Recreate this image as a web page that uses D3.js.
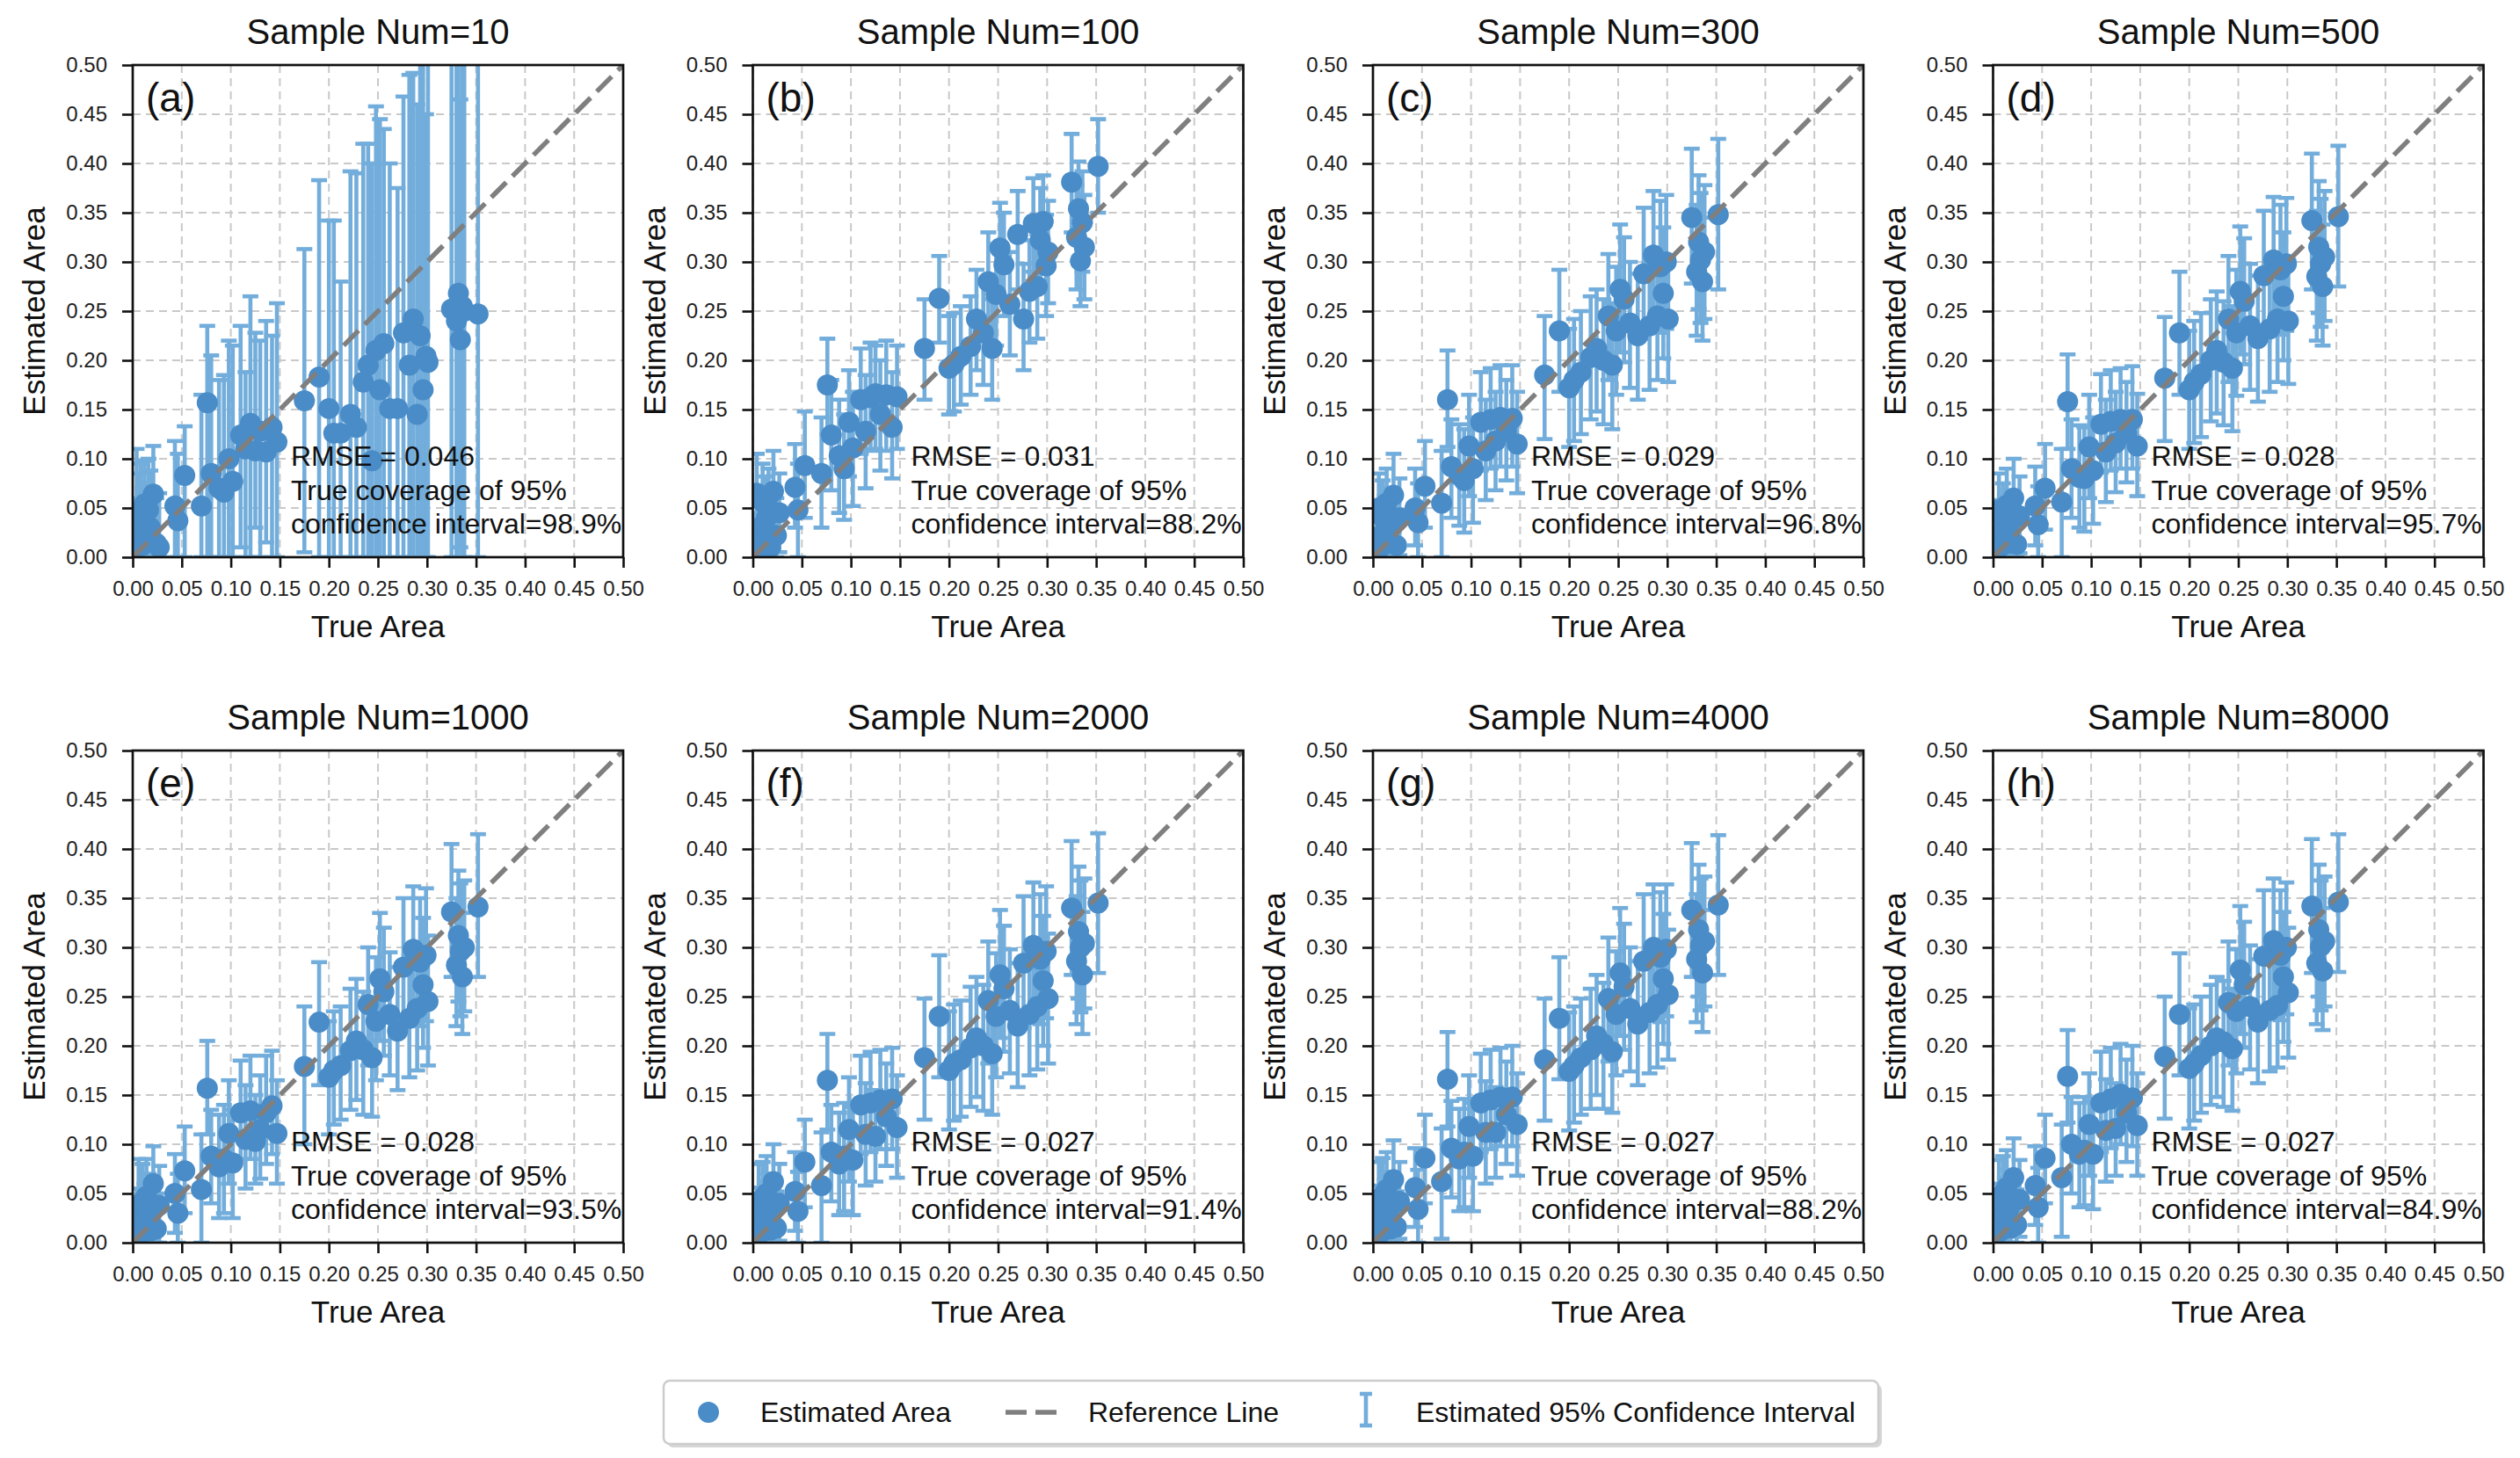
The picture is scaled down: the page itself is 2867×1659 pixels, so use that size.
<!DOCTYPE html>
<html>
<head>
<meta charset="utf-8">
<script src="https://cdn.jsdelivr.net/npm/d3@7"></script>
<style>
  html, body { margin: 0; padding: 0; background: #fff; }
  svg text { font-family: "Liberation Sans", Arial, sans-serif; fill: #111; }
</style>
</head>
<body>
<div id="chart"></div>
<script>
// ground-truth areas (shared by all panels)
const trueArea = [
  0.002, 0.004, 0.006, 0.008, 0.010, 0.012, 0.014, 0.016, 0.018, 0.021,
  0.024, 0.027, 0.043, 0.046, 0.053, 0.070, 0.076, 0.080, 0.088, 0.093,
  0.098, 0.102, 0.110, 0.115, 0.120, 0.125, 0.130, 0.136, 0.142, 0.147,
  0.175, 0.190, 0.200, 0.205, 0.212, 0.222, 0.228, 0.235, 0.240, 0.244,
  0.248, 0.252, 0.256, 0.262, 0.270, 0.276, 0.282, 0.286, 0.290, 0.293,
  0.296, 0.299, 0.301, 0.325, 0.330, 0.332, 0.334, 0.336, 0.338, 0.352
];

const sampleNums = [10, 100, 300, 500, 1000, 2000, 4000, 8000];
const panelLetters = ['a', 'b', 'c', 'd', 'e', 'f', 'g', 'h'];
const rmseValues = ['0.046', '0.031', '0.029', '0.028', '0.028', '0.027', '0.027', '0.027'];
const coverageValues = ['98.9', '88.2', '96.8', '95.7', '93.5', '91.4', '88.2', '84.9'];
const axisTicks = [0, 0.05, 0.10, 0.15, 0.20, 0.25, 0.30, 0.35, 0.40, 0.45, 0.50];

// [estimated, ci lower, ci upper] per point, same order as trueArea
const est10 = [
  [0.008,0,0.060],[0.045,0,0.110],[0.028,0,0.085],[0.039,0,0.095],[0.012,0,0.070],[0.054,0,0.098],
  [0.020,0,0.075],[0.048,0,0.100],[0.030,0,0.088],[0.064,0,0.113],[0.014,0,0.060],[0.010,0,0.065],
  [0.052,0,0.118],[0.037,0,0.105],[0.083,0,0.133],[0.052,0,0.165],[0.157,0,0.235],[0.085,0,0.205],
  [0.070,0,0.180],[0.066,0,0.185],[0.100,0,0.220],[0.077,0,0.215],[0.124,0.010,0.235],[0.110,0,0.188],
  [0.136,0,0.265],[0.108,0.030,0.228],[0.128,0,0.220],[0.107,0.015,0.240],[0.132,0,0.225],[0.117,0,0.258],
  [0.159,0.005,0.313],[0.183,0,0.383],[0.151,0,0.342],[0.126,0,0.342],[0.126,0,0.280],[0.145,0,0.392],
  [0.132,0,0.390],[0.178,0,0.420],[0.195,0,0.420],[0.098,0,0.400],[0.210,0,0.458],[0.170,0,0.445],
  [0.217,0,0.435],[0.151,0,0.400],[0.151,0,0.375],[0.228,0,0.468],[0.195,0,0.490],[0.242,0,0.492],
  [0.145,0,0.460],[0.225,0,0.550],[0.170,0,0.520],[0.204,0,0.450],[0.198,0,0.560],[0.252,0,0.600],
  [0.240,0,0.620],[0.268,0,0.560],[0.221,0.010,0.465],[0.255,0,0.580],[0.250,0,0.600],[0.247,0,0.650]
];
const est100 = [
  [0.012,0,0.045],[0.065,0.020,0.105],[0.030,0,0.070],[0.008,0,0.040],[0.056,0.015,0.095],[0.020,0,0.060],
  [0.040,0,0.082],[0.050,0.008,0.090],[0.010,0,0.045],[0.067,0.025,0.108],[0.022,0,0.060],[0.045,0.005,0.085],
  [0.071,0.030,0.115],[0.048,0,0.095],[0.093,0.040,0.148],[0.085,0.030,0.142],[0.175,0.125,0.222],[0.124,0.068,0.180],
  [0.103,0.045,0.160],[0.090,0.038,0.145],[0.137,0.082,0.190],[0.111,0.052,0.168],[0.160,0.105,0.212],[0.128,0.070,0.185],
  [0.162,0.108,0.218],[0.166,0.110,0.215],[0.145,0.088,0.200],[0.165,0.108,0.220],[0.132,0.080,0.188],[0.163,0.110,0.215],
  [0.212,0.160,0.262],[0.263,0.218,0.306],[0.192,0.145,0.245],[0.196,0.148,0.248],[0.204,0.155,0.255],[0.214,0.165,0.265],
  [0.242,0.190,0.292],[0.228,0.175,0.282],[0.280,0.228,0.330],[0.212,0.160,0.262],[0.267,0.215,0.318],[0.314,0.262,0.360],
  [0.297,0.245,0.350],[0.257,0.205,0.310],[0.328,0.272,0.372],[0.242,0.190,0.298],[0.270,0.218,0.322],[0.339,0.290,0.385],
  [0.275,0.222,0.328],[0.322,0.270,0.375],[0.341,0.292,0.388],[0.296,0.245,0.348],[0.310,0.258,0.362],[0.381,0.330,0.430],
  [0.325,0.272,0.378],[0.354,0.302,0.402],[0.301,0.255,0.350],[0.340,0.290,0.392],[0.315,0.262,0.368],[0.397,0.350,0.445]
];
const est300 = [
  [0.004,0,0.030],[0.020,0,0.055],[0.050,0.015,0.085],[0.010,0,0.042],[0.040,0.005,0.078],[0.025,0,0.062],
  [0.055,0.018,0.090],[0.032,0,0.070],[0.015,0,0.050],[0.063,0.025,0.105],[0.012,0,0.048],[0.040,0.002,0.080],
  [0.050,0.012,0.090],[0.035,0,0.075],[0.072,0.030,0.118],[0.055,0,0.108],[0.160,0.112,0.210],[0.092,0.040,0.140],
  [0.083,0.032,0.135],[0.078,0.025,0.130],[0.113,0.062,0.165],[0.090,0.035,0.142],[0.137,0.088,0.188],[0.108,0.058,0.160],
  [0.140,0.090,0.192],[0.118,0.068,0.168],[0.142,0.092,0.195],[0.128,0.078,0.180],[0.141,0.092,0.195],[0.115,0.065,0.168],
  [0.185,0.120,0.245],[0.230,0.168,0.292],[0.172,0.112,0.232],[0.180,0.118,0.242],[0.188,0.125,0.250],[0.203,0.140,0.265],
  [0.212,0.148,0.272],[0.200,0.135,0.262],[0.245,0.180,0.308],[0.195,0.130,0.258],[0.230,0.165,0.295],[0.272,0.208,0.338],
  [0.262,0.198,0.325],[0.238,0.172,0.300],[0.225,0.160,0.288],[0.288,0.222,0.355],[0.235,0.170,0.298],[0.307,0.240,0.372],
  [0.245,0.180,0.310],[0.295,0.228,0.362],[0.268,0.202,0.335],[0.300,0.232,0.368],[0.242,0.178,0.305],[0.345,0.278,0.415],
  [0.290,0.225,0.358],[0.320,0.252,0.388],[0.302,0.238,0.370],[0.280,0.220,0.345],[0.310,0.242,0.378],[0.348,0.272,0.425]
];
const est500 = [
  [0.005,0,0.032],[0.022,0,0.058],[0.048,0.012,0.085],[0.011,0,0.044],[0.038,0.004,0.075],[0.026,0,0.063],
  [0.053,0.016,0.090],[0.030,0,0.068],[0.014,0,0.050],[0.060,0.022,0.100],[0.013,0,0.048],[0.042,0.004,0.082],
  [0.052,0.012,0.092],[0.033,0,0.072],[0.070,0.028,0.115],[0.056,0,0.110],[0.158,0.110,0.206],[0.090,0.040,0.140],
  [0.081,0.030,0.134],[0.080,0.026,0.132],[0.112,0.060,0.165],[0.088,0.034,0.142],[0.135,0.086,0.186],[0.107,0.056,0.160],
  [0.138,0.088,0.190],[0.116,0.066,0.168],[0.140,0.090,0.192],[0.126,0.076,0.178],[0.140,0.090,0.194],[0.113,0.062,0.166],
  [0.182,0.118,0.244],[0.228,0.165,0.290],[0.170,0.110,0.230],[0.178,0.116,0.240],[0.186,0.122,0.248],[0.200,0.138,0.262],
  [0.210,0.146,0.270],[0.198,0.134,0.260],[0.242,0.178,0.306],[0.192,0.128,0.255],[0.228,0.164,0.292],[0.270,0.206,0.336],
  [0.260,0.196,0.324],[0.235,0.170,0.298],[0.222,0.158,0.286],[0.286,0.220,0.352],[0.232,0.168,0.296],[0.302,0.236,0.366],
  [0.242,0.178,0.306],[0.292,0.226,0.358],[0.265,0.200,0.330],[0.298,0.230,0.365],[0.240,0.176,0.302],[0.342,0.272,0.410],
  [0.285,0.220,0.352],[0.315,0.248,0.382],[0.298,0.234,0.364],[0.275,0.215,0.338],[0.305,0.240,0.372],[0.346,0.275,0.418]
];
const est1000 = [
  [0.005,0,0.030],[0.018,0,0.055],[0.035,0,0.085],[0.009,0,0.040],[0.042,0.005,0.080],[0.022,0,0.060],
  [0.047,0.010,0.085],[0.028,0,0.070],[0.012,0,0.045],[0.060,0.020,0.098],[0.014,0,0.050],[0.038,0,0.078],
  [0.050,0.010,0.090],[0.030,0,0.070],[0.073,0.030,0.118],[0.054,0,0.110],[0.157,0.110,0.205],[0.088,0.040,0.135],
  [0.077,0.025,0.130],[0.085,0.030,0.140],[0.111,0.060,0.165],[0.081,0.025,0.135],[0.132,0.085,0.185],[0.105,0.055,0.160],
  [0.134,0.085,0.190],[0.103,0.060,0.150],[0.115,0.065,0.170],[0.132,0.080,0.190],[0.139,0.090,0.195],[0.111,0.060,0.165],
  [0.179,0.100,0.240],[0.224,0.160,0.285],[0.168,0.110,0.225],[0.175,0.120,0.235],[0.180,0.125,0.240],[0.195,0.135,0.258],
  [0.205,0.145,0.268],[0.196,0.130,0.255],[0.242,0.180,0.300],[0.188,0.128,0.245],[0.225,0.165,0.290],[0.268,0.205,0.335],
  [0.255,0.190,0.320],[0.232,0.170,0.295],[0.215,0.155,0.280],[0.280,0.215,0.350],[0.228,0.168,0.292],[0.298,0.230,0.362],
  [0.238,0.175,0.305],[0.285,0.220,0.350],[0.262,0.198,0.330],[0.292,0.225,0.360],[0.245,0.180,0.312],[0.336,0.270,0.405],
  [0.282,0.220,0.350],[0.312,0.245,0.378],[0.296,0.230,0.365],[0.270,0.212,0.335],[0.300,0.235,0.368],[0.341,0.270,0.415]
];
const est2000 = [
  [0.006,0,0.030],[0.020,0,0.056],[0.036,0,0.080],[0.010,0,0.042],[0.045,0.008,0.082],[0.024,0,0.062],
  [0.050,0.012,0.088],[0.030,0,0.070],[0.013,0,0.046],[0.062,0.022,0.100],[0.015,0,0.052],[0.040,0.002,0.080],
  [0.052,0.012,0.092],[0.032,0,0.072],[0.082,0.036,0.125],[0.058,0,0.112],[0.165,0.115,0.212],[0.092,0.042,0.140],
  [0.080,0.028,0.132],[0.088,0.032,0.142],[0.115,0.062,0.168],[0.084,0.028,0.138],[0.140,0.090,0.190],[0.110,0.058,0.162],
  [0.142,0.092,0.194],[0.108,0.062,0.155],[0.145,0.095,0.196],[0.128,0.078,0.182],[0.146,0.095,0.198],[0.117,0.066,0.170],
  [0.188,0.125,0.248],[0.230,0.168,0.292],[0.175,0.115,0.235],[0.182,0.124,0.242],[0.186,0.128,0.246],[0.198,0.138,0.260],
  [0.208,0.148,0.270],[0.200,0.134,0.262],[0.246,0.182,0.306],[0.192,0.130,0.252],[0.230,0.168,0.294],[0.272,0.208,0.338],
  [0.258,0.194,0.322],[0.236,0.172,0.298],[0.220,0.158,0.284],[0.284,0.218,0.352],[0.232,0.170,0.296],[0.302,0.234,0.366],
  [0.240,0.176,0.306],[0.288,0.222,0.354],[0.266,0.200,0.332],[0.296,0.228,0.362],[0.248,0.182,0.314],[0.340,0.272,0.408],
  [0.286,0.222,0.352],[0.316,0.248,0.382],[0.300,0.234,0.368],[0.272,0.212,0.336],[0.304,0.238,0.370],[0.345,0.274,0.416]
];
const est4000 = [
  [0.005,0,0.030],[0.022,0,0.058],[0.040,0.002,0.082],[0.010,0,0.044],[0.048,0.010,0.086],[0.026,0,0.064],
  [0.054,0.016,0.092],[0.032,0,0.072],[0.014,0,0.048],[0.064,0.024,0.104],[0.016,0,0.052],[0.042,0.004,0.082],
  [0.056,0.016,0.096],[0.034,0,0.074],[0.086,0.040,0.130],[0.062,0.004,0.116],[0.166,0.118,0.214],[0.096,0.046,0.144],
  [0.085,0.032,0.136],[0.092,0.036,0.146],[0.118,0.066,0.170],[0.088,0.032,0.142],[0.142,0.092,0.192],[0.112,0.060,0.164],
  [0.145,0.095,0.196],[0.112,0.066,0.158],[0.148,0.098,0.198],[0.130,0.080,0.184],[0.148,0.098,0.200],[0.120,0.068,0.172],
  [0.186,0.124,0.248],[0.228,0.166,0.290],[0.174,0.114,0.234],[0.180,0.122,0.240],[0.188,0.130,0.248],[0.196,0.136,0.258],
  [0.210,0.150,0.272],[0.202,0.136,0.264],[0.248,0.184,0.310],[0.194,0.132,0.254],[0.232,0.170,0.296],[0.274,0.210,0.340],
  [0.260,0.196,0.324],[0.238,0.174,0.300],[0.222,0.160,0.286],[0.286,0.220,0.354],[0.234,0.172,0.298],[0.300,0.234,0.364],
  [0.242,0.178,0.308],[0.290,0.224,0.356],[0.268,0.202,0.334],[0.298,0.230,0.364],[0.252,0.186,0.318],[0.338,0.270,0.406],
  [0.288,0.224,0.354],[0.318,0.250,0.384],[0.302,0.236,0.370],[0.274,0.214,0.338],[0.306,0.240,0.372],[0.343,0.272,0.414]
];
const est8000 = [
  [0.006,0,0.032],[0.024,0,0.060],[0.042,0.004,0.084],[0.012,0,0.046],[0.050,0.012,0.088],[0.028,0,0.066],
  [0.056,0.018,0.094],[0.034,0,0.074],[0.015,0,0.050],[0.066,0.026,0.106],[0.018,0,0.054],[0.044,0.006,0.084],
  [0.058,0.018,0.098],[0.036,0,0.076],[0.086,0.040,0.130],[0.066,0.006,0.120],[0.169,0.122,0.216],[0.100,0.050,0.148],
  [0.090,0.036,0.142],[0.094,0.038,0.148],[0.120,0.068,0.172],[0.090,0.034,0.144],[0.142,0.092,0.194],[0.114,0.062,0.166],
  [0.146,0.096,0.198],[0.116,0.068,0.162],[0.151,0.100,0.202],[0.132,0.082,0.186],[0.147,0.098,0.200],[0.119,0.068,0.172],
  [0.189,0.126,0.250],[0.232,0.170,0.294],[0.177,0.116,0.238],[0.182,0.124,0.242],[0.190,0.132,0.250],[0.200,0.140,0.262],
  [0.208,0.148,0.270],[0.204,0.138,0.266],[0.244,0.180,0.306],[0.197,0.134,0.258],[0.235,0.172,0.298],[0.277,0.212,0.342],
  [0.262,0.198,0.326],[0.240,0.176,0.302],[0.224,0.162,0.288],[0.291,0.226,0.358],[0.236,0.174,0.300],[0.307,0.240,0.370],
  [0.241,0.178,0.306],[0.292,0.226,0.358],[0.270,0.204,0.336],[0.300,0.232,0.366],[0.254,0.188,0.320],[0.342,0.274,0.410],
  [0.284,0.222,0.350],[0.318,0.250,0.384],[0.301,0.236,0.368],[0.276,0.216,0.340],[0.306,0.240,0.372],[0.346,0.275,0.415]
];
const panelEstimates = [est10, est100, est300, est500, est1000, est2000, est4000, est8000];

// ---- layout ----
const width = 2867, height = 1659;
const colLeft = [151, 856.5, 1562, 2267.5];
const rowTop = [74, 854];
const pw = 558, ph = 560;

const pointColor = '#4a8cc7';
const barColor = '#72addb';
const refColor = '#7f7f7f';

const svg = d3.select('#chart').append('svg')
    .attr('width', width)
    .attr('height', height);

svg.append('rect').attr('width', width).attr('height', height).attr('fill', '#fff');

const fmt = d3.format('.2f');

panelEstimates.forEach((rows, i) => {
    const left = colLeft[i % 4];
    const top = rowTop[Math.floor(i / 4)];

    const x = d3.scaleLinear().domain([0, 0.5]).range([0, pw]);
    const y = d3.scaleLinear().domain([0, 0.5]).range([ph, 0]);

    const g = svg.append('g').attr('transform', `translate(${left}, ${top})`);

    const clipId = 'clip-' + i;
    g.append('clipPath').attr('id', clipId)
        .append('rect').attr('width', pw).attr('height', ph);

    // grid
    const grid = g.append('g');
    grid.selectAll('line.vx')
        .data(axisTicks)
        .enter().append('line')
        .attr('x1', d => x(d)).attr('x2', d => x(d))
        .attr('y1', 0).attr('y2', ph);
    grid.selectAll('line.hy')
        .data(axisTicks)
        .enter().append('line')
        .attr('x1', 0).attr('x2', pw)
        .attr('y1', d => y(d)).attr('y2', d => y(d));
    grid.selectAll('line')
        .style('stroke', '#c9c9c9')
        .style('stroke-width', 2)
        .style('stroke-dasharray', '9,6');

    const points = rows.map((r, k) => ({ t: trueArea[k], est: r[0], lo: r[1], hi: r[2] }));

    const plot = g.append('g').attr('clip-path', `url(#${clipId})`);

    // error bars
    const bars = plot.append('g')
        .style('stroke', barColor)
        .style('stroke-width', 4.6);
    bars.selectAll('line.stem')
        .data(points)
        .enter().append('line')
        .attr('x1', d => x(d.t)).attr('x2', d => x(d.t))
        .attr('y1', d => y(d.lo)).attr('y2', d => y(d.hi));
    bars.selectAll('line.caphi')
        .data(points)
        .enter().append('line')
        .attr('x1', d => x(d.t) - 9).attr('x2', d => x(d.t) + 9)
        .attr('y1', d => y(d.hi)).attr('y2', d => y(d.hi));
    bars.selectAll('line.caplo')
        .data(points)
        .enter().append('line')
        .attr('x1', d => x(d.t) - 9).attr('x2', d => x(d.t) + 9)
        .attr('y1', d => y(d.lo)).attr('y2', d => y(d.lo));

    // estimated points
    plot.append('g').selectAll('circle')
        .data(points)
        .enter().append('circle')
        .attr('cx', d => x(d.t))
        .attr('cy', d => y(d.est))
        .attr('r', 12)
        .style('fill', pointColor);

    // reference line
    plot.append('line')
        .attr('x1', x(0)).attr('y1', y(0))
        .attr('x2', x(0.5)).attr('y2', y(0.5))
        .style('stroke', refColor)
        .style('stroke-width', 5.5)
        .style('stroke-dasharray', '24,10');

    // axes
    const xAxis = g.append('g')
        .attr('transform', `translate(0, ${ph})`)
        .call(d3.axisBottom(x).tickValues(axisTicks).tickFormat(fmt).tickSize(12).tickPadding(15));
    const yAxis = g.append('g')
        .call(d3.axisLeft(y).tickValues(axisTicks).tickFormat(fmt).tickSize(12).tickPadding(17));
    [xAxis, yAxis].forEach(ax => {
        ax.select('.domain').remove();
        ax.selectAll('line').style('stroke', '#111').style('stroke-width', 2.6);
        ax.selectAll('text').style('font-size', '24px').style('fill', '#222');
    });

    // spines
    g.append('rect')
        .attr('width', pw).attr('height', ph)
        .style('fill', 'none')
        .style('stroke', '#111')
        .style('stroke-width', 2.7);

    // title
    g.append('text')
        .attr('x', pw / 2)
        .attr('y', -24)
        .attr('text-anchor', 'middle')
        .style('font-size', '40px')
        .text('Sample Num=' + sampleNums[i]);

    // panel letter
    g.append('text')
        .attr('x', 15)
        .attr('y', 53)
        .style('font-size', '46px')
        .text('(' + panelLetters[i] + ')');

    // axis labels
    g.append('text')
        .attr('x', pw / 2)
        .attr('y', ph + 91)
        .attr('text-anchor', 'middle')
        .style('font-size', '35px')
        .text('True Area');
    g.append('text')
        .attr('transform', 'rotate(-90)')
        .attr('x', -ph / 2)
        .attr('y', -100)
        .attr('text-anchor', 'middle')
        .style('font-size', '35px')
        .text('Estimated Area');

    // stats annotation
    const notes = [
        'RMSE = ' + rmseValues[i],
        'True coverage of 95%',
        'confidence interval=' + coverageValues[i] + '%'
    ];
    const noteY = [ph - 104, ph - 65, ph - 27];
    g.selectAll('text.note')
        .data(notes)
        .enter().append('text')
        .attr('class', 'note')
        .attr('x', 180)
        .attr('y', (d, k) => noteY[k])
        .style('font-size', '32px')
        .text(d => d);
});

// legend
const legend = svg.append('g');
legend.append('rect')
    .attr('x', 759).attr('y', 1575)
    .attr('width', 1382).attr('height', 72)
    .attr('rx', 7)
    .style('fill', '#d6d6d6');
legend.append('rect')
    .attr('x', 755).attr('y', 1571)
    .attr('width', 1382).attr('height', 72)
    .attr('rx', 7)
    .style('fill', '#fff')
    .style('stroke', '#cccccc')
    .style('stroke-width', 2.5);

const legendY = 1607;
legend.append('circle')
    .attr('cx', 806).attr('cy', legendY).attr('r', 12)
    .style('fill', pointColor);
legend.append('line')
    .attr('x1', 1144).attr('x2', 1210)
    .attr('y1', legendY).attr('y2', legendY)
    .style('stroke', refColor)
    .style('stroke-width', 5.5)
    .style('stroke-dasharray', '24,10');
const ebar = legend.append('g')
    .style('stroke', barColor)
    .style('stroke-width', 4.6);
ebar.append('line').attr('x1', 1554).attr('x2', 1554).attr('y1', 1586).attr('y2', 1622);
ebar.append('line').attr('x1', 1547).attr('x2', 1561).attr('y1', 1586).attr('y2', 1586);
ebar.append('line').attr('x1', 1547).attr('x2', 1561).attr('y1', 1622).attr('y2', 1622);

const legendLabels = [
    { x: 865, text: 'Estimated Area' },
    { x: 1238, text: 'Reference Line' },
    { x: 1611, text: 'Estimated 95% Confidence Interval' }
];
legend.selectAll('text')
    .data(legendLabels)
    .enter().append('text')
    .attr('x', d => d.x)
    .attr('y', legendY + 11)
    .style('font-size', '32px')
    .text(d => d.text);
</script>
</body>
</html>
